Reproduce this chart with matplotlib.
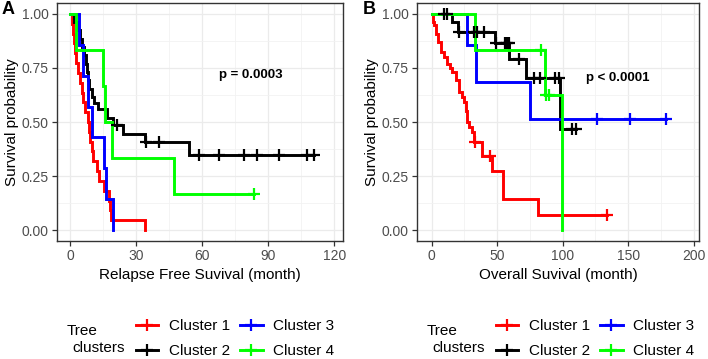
import numpy as np
import matplotlib
matplotlib.use("Agg")
import matplotlib.pyplot as plt
from matplotlib.lines import Line2D
from matplotlib.ticker import MultipleLocator

plt.rcParams['font.family'] = ['Liberation Sans', 'DejaVu Sans']

cluster_names = ["Cluster 1", "Cluster 2", "Cluster 3", "Cluster 4"]
cluster_colors = ["#FF0000", "#000000", "#0000FF", "#00FF00"]

# ---- Panel A: Relapse free survival ----
rfs_c1_t = [0.8, 1.2, 1.6, 2.2, 2.8, 3.6, 4.5, 5.5, 6.1, 7.0, 8.3, 8.8, 9.1, 9.8, 10.3, 12.1, 13.3, 15.2, 17.9, 18.1, 18.4, 34.0]
rfs_c1_s = [0.955, 0.909, 0.864, 0.818, 0.773, 0.727, 0.682, 0.636, 0.591, 0.545, 0.5, 0.455, 0.409, 0.364, 0.318, 0.273, 0.227, 0.182, 0.136, 0.091, 0.045, 0.0]
rfs_c1_cens = []

rfs_c2_t = [2.0, 3.5, 4.5, 5.5, 6.5, 7.2, 7.8, 8.3, 8.8, 10.0, 11.0, 12.9, 16.7, 19.7, 24.0, 34.0, 54.2]
rfs_c2_s = [0.962, 0.923, 0.885, 0.846, 0.808, 0.769, 0.731, 0.692, 0.654, 0.615, 0.59, 0.56, 0.52, 0.484, 0.445, 0.407, 0.349]
rfs_c2_cens = [21.2, 34.4, 40.6, 58.6, 67.4, 78.8, 84.8, 94.7, 107.6, 110.5]

rfs_c3_t = [4.2, 5.8, 8.3, 9.8, 15.5, 16.2, 19.3]
rfs_c3_s = [0.857, 0.714, 0.571, 0.429, 0.286, 0.143, 0.0]
rfs_c3_cens = []

rfs_c4_t = [2.6, 15.0, 15.9, 19.0, 47.0]
rfs_c4_s = [0.833, 0.667, 0.5, 0.333, 0.167]
rfs_c4_cens = [83.5]

# ---- Panel B: Overall survival ----
os_c1_t = [1.0, 1.8, 3.0, 4.5, 6.8, 9.5, 11.9, 14.0, 15.7, 18.2, 20.8, 23.0, 24.6, 26.0, 27.1, 28.5, 30.9, 32.2, 38.5, 46.1, 54.2, 81.1]
os_c1_s = [0.964, 0.947, 0.909, 0.87, 0.824, 0.80, 0.770, 0.75, 0.731, 0.692, 0.638, 0.615, 0.592, 0.55, 0.499, 0.475, 0.453, 0.406, 0.344, 0.275, 0.144, 0.072]
os_c1_cens = [33.4, 44.8, 134.0]

os_c2_t = [15.2, 20.3, 48.2, 59.0, 72.2, 97.6]
os_c2_s = [0.963, 0.917, 0.866, 0.793, 0.703, 0.468]
os_c2_cens = [9.4, 11.9, 20.8, 32.2, 34.7, 39.8, 48.7, 56.3, 57.5, 58.8, 66.9, 77.8, 82.9, 94.3, 96.8, 107.0, 109.8]

os_c3_t = [27.1, 33.8, 75.3]
os_c3_s = [0.857, 0.686, 0.514]
os_c3_cens = [126.5, 151.3, 178.5]

os_c4_t = [33.0, 86.2, 99.2]
os_c4_s = [0.833, 0.625, 0.0]
os_c4_cens = [83.6, 87.4, 89.2]

rfs_p_text = "p = 0.0003"
os_p_text = "p < 0.0001"

W, H = 708, 359
fig = plt.figure(figsize=(W / 100, H / 100), dpi=100)


def surv_at(times, surv, t):
    idx = np.searchsorted(np.asarray(times), t, side='right')
    s = np.concatenate([[1.0], surv])
    return s[idx]


def draw_km(ax, times, surv, cens, color):
    end = max([times[-1]] + list(cens))
    tt = np.concatenate([[0.0], times, [end]])
    ss = np.concatenate([[1.0], surv, [surv[-1]]])
    ax.step(tt, ss, where='post', color=color, lw=2.1, solid_joinstyle='miter', zorder=3)
    if len(cens):
        c = np.asarray(cens, dtype=float)
        ax.plot(c, surv_at(times, surv, c), linestyle='none', marker='+',
                markersize=8, mew=1.6, color=color, zorder=4)


def style_axes(ax, xlim, xmajor, xminor, xlabel):
    ax.set_xlim(*xlim)
    ax.set_ylim(-0.05, 1.05)
    ax.xaxis.set_major_locator(MultipleLocator(xmajor))
    ax.xaxis.set_minor_locator(MultipleLocator(xminor))
    ax.yaxis.set_major_locator(MultipleLocator(0.25))
    ax.yaxis.set_minor_locator(MultipleLocator(0.125))
    ax.grid(True, which='major', color='#EBEBEB', lw=0.9, zorder=0)
    ax.grid(True, which='minor', color='#F2F2F2', lw=0.6, zorder=0)
    ax.set_axisbelow(True)
    ax.yaxis.set_major_formatter(matplotlib.ticker.FormatStrFormatter('%.2f'))
    ax.tick_params(which='major', length=3.5, width=0.9, color='#333333',
                   labelsize=10, labelcolor='#4D4D4D', pad=2.5)
    ax.tick_params(which='minor', length=0)
    for sp in ax.spines.values():
        sp.set_color('#333333')
        sp.set_linewidth(1.0)
    ax.set_xlabel(xlabel, fontsize=11, labelpad=3)
    ax.set_ylabel("Survival probability", fontsize=11, labelpad=2)


axA = fig.add_axes([57 / W, 1 - 241 / H, (343.3 - 57) / W, 238 / H])
axB = fig.add_axes([417.3 / W, 1 - 241 / H, (699 - 417.3) / W, 238 / H])

rfs = [(rfs_c1_t, rfs_c1_s, rfs_c1_cens), (rfs_c2_t, rfs_c2_s, rfs_c2_cens),
       (rfs_c3_t, rfs_c3_s, rfs_c3_cens), (rfs_c4_t, rfs_c4_s, rfs_c4_cens)]
osd = [(os_c1_t, os_c1_s, os_c1_cens), (os_c2_t, os_c2_s, os_c2_cens),
       (os_c3_t, os_c3_s, os_c3_cens), (os_c4_t, os_c4_s, os_c4_cens)]

for (t, s, c), col in zip(rfs, cluster_colors):
    draw_km(axA, t, s, c, col)
for (t, s, c), col in zip(osd, cluster_colors):
    draw_km(axB, t, s, c, col)

style_axes(axA, (-5.9, 124.0), 30, 15, "Relapse Free Suvival (month)")
style_axes(axB, (-11.0, 204.0), 50, 25, "Overall Suvival (month)")

axA.text(82, 0.715, rfs_p_text, fontsize=9.5, fontweight='bold', ha='center', va='center')
axB.text(141.7, 0.703, os_p_text, fontsize=9.5, fontweight='bold', ha='center', va='center')

fig.text(2 / W, 1 - 10 / H, "A", fontsize=13, fontweight='bold', ha='left', va='center')
fig.text(363 / W, 1 - 10 / H, "B", fontsize=13, fontweight='bold', ha='left', va='center')

handles = [Line2D([0], [0], color=c, lw=2.1, marker='+', markersize=8, mew=1.6)
           for c in cluster_colors]

for off in (0, 360):
    fig.text((67 + off) / W, 1 - 330.7 / H, "Tree", fontsize=11, ha='left', va='center')
    fig.text((72 + off) / W, 1 - 348 / H, "clusters", fontsize=11, ha='left', va='center')
    fig.legend(handles, cluster_names, ncol=2, loc='center',
               bbox_to_anchor=((235 + off) / W, 1 - 338.5 / H),
               frameon=False, fontsize=11, handlelength=1.45, handletextpad=0.7,
               columnspacing=0.7, labelspacing=0.7, borderpad=0, borderaxespad=0)

fig.savefig("out.png", dpi=100)
